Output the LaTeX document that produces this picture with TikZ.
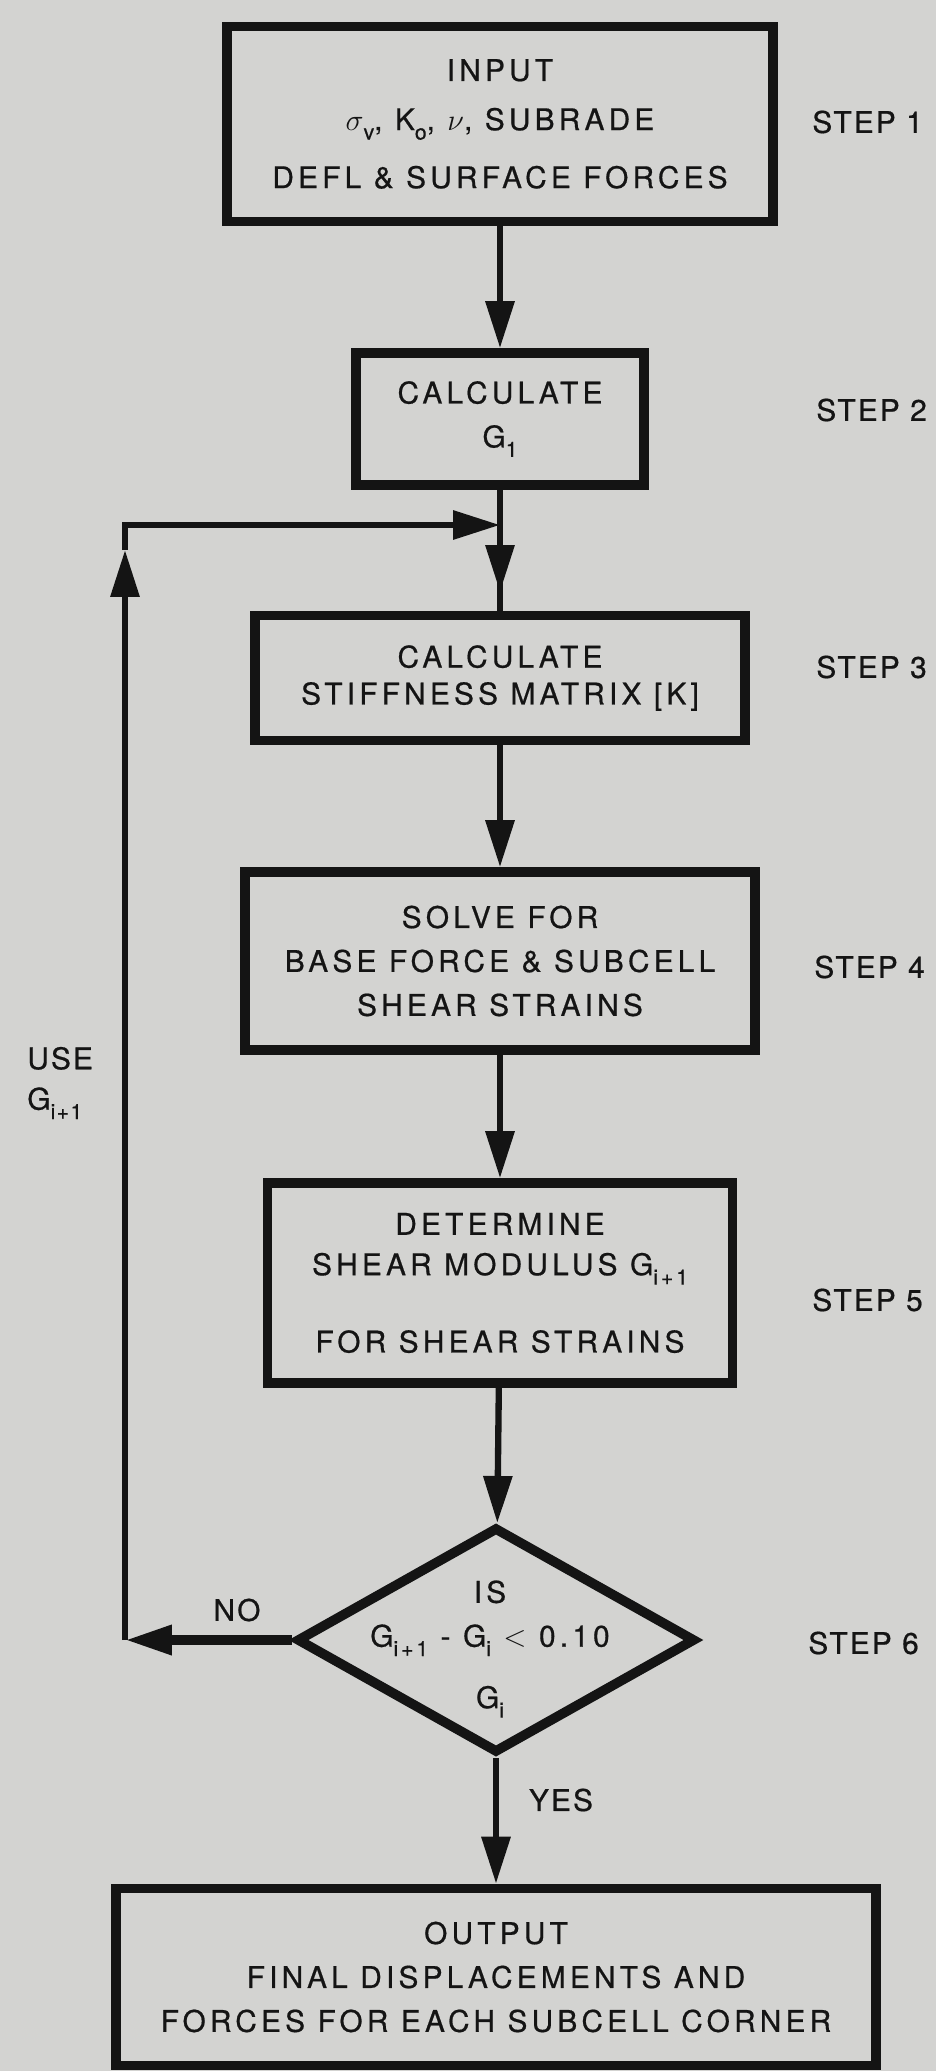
\documentclass[tikz,border=0pt]{standalone}
\usepackage{fontspec}
\usepackage{tikz}
\usetikzlibrary{arrows.meta,shapes.geometric}
\setmainfont[LetterSpace=14, FakeBold=0.6]{TeX Gyre Heros}
\definecolor{paper}{HTML}{D3D3D1}
\colorlet{ink}{black!92}
\newcommand{\lowsub}[1]{\raisebox{-0.6ex}{\fontsize{12}{12}\selectfont #1}}
\tikzset{chart/box/.style={draw=ink, text=ink, line width=5.5pt, align=center, inner sep=0pt, font=\fontsize{17}{25}\selectfont},
  chart/line/.style={ink, line width=3.6pt},
  chart/arrow/.style={chart/line, -{Triangle[length=0.94cm, width=0.56cm]}},
  chart/note/.style={text=ink, inner sep=0pt, font=\fontsize{17}{25}\selectfont\addfontfeature{LetterSpace=7}}}

\begin{document}
\begin{tikzpicture}[x=0.02cm, y=-0.02cm]
  \path[use as bounding box, fill=paper] (0,0) rectangle (936,2071);
\node[chart/box, minimum width=10.92cm, minimum height=3.90cm] (in) at (500,124) {INPUT\\[3pt] $\sigma$\lowsub{v}, K\lowsub{o}, $\nu$, SUBRADE\\[8pt] DEFL \& SURFACE FORCES};
\node[chart/box, minimum width=5.76cm, minimum height=2.64cm] (g1) at (500,419) {CALCULATE\\ G\lowsub{1}};
\node[chart/box, minimum width=9.80cm, minimum height=2.50cm] (stiff) at (500,678) {CALCULATE\\[-4pt] STIFFNESS MATRIX [K]};
\node[chart/box, minimum width=10.20cm, minimum height=3.56cm] (solve) at (500,961) {SOLVE FOR\\ BASE FORCE \& SUBCELL\\ SHEAR STRAINS};
\node[chart/box, minimum width=9.30cm, minimum height=4.00cm] (mod) at (500,1283) {DETERMINE\\[-2pt] SHEAR MODULUS G\lowsub{i+1}\\[19pt] FOR SHEAR STRAINS};
\node[chart/box, shape=diamond, minimum width=7.98cm, minimum height=4.52cm] (test) at (496,1640) {};
\node[chart/box, draw=none, align=center] (testtext) at (490,1649) {IS\\ G\lowsub{i+1} - G\lowsub{i} $<$ 0.10\\[10pt] G\lowsub{i}};
\node[chart/box, minimum width=15.20cm, minimum height=3.54cm] (out) at (496,1977) {OUTPUT\\ FINAL DISPLACEMENTS AND\\ FORCES FOR EACH SUBCELL CORNER};
\node[chart/note, anchor=west] (s1) at (812,122) {STEP 1};
\node[chart/note, anchor=west] (s2) at (816,410) {STEP 2};
\node[chart/note, anchor=west] (s3) at (816,667) {STEP 3};
\node[chart/note, anchor=west] (s4) at (814,967) {STEP 4};
\node[chart/note, anchor=west] (s5) at (812,1300) {STEP 5};
\node[chart/note, anchor=west] (s6) at (808,1643) {STEP 6};
\node[chart/note, anchor=west, align=left] (use) at (27,1083) {USE\\[-2pt] G\lowsub{i+1}};
\node[chart/note] (no) at (237,1610) {NO};
\node[chart/note] (yes) at (561,1800) {YES};
\coordinate (join) at (500,525);
\coordinate (downtip) at (500,592);
\coordinate (loopbot) at (125,1640);
\coordinate (uptip) at (125,550);
\coordinate (looptop) at (125,525);
\draw[chart/arrow] (in) -- (g1);
\draw[chart/line] (g1) -- (stiff);
\draw[chart/arrow] (join) -- (downtip);
\draw[chart/arrow] (stiff) -- (solve);
\draw[chart/arrow] (solve) -- (mod);
\draw[chart/arrow] (mod) -- (test);
\draw[chart/arrow] (test) -- (out);
\draw[chart/arrow, line width=5.5pt] (test.west) -- (loopbot);
\draw[chart/arrow] (loopbot) -- (uptip);
\draw[chart/arrow] (uptip) -- (looptop) -- (join);
\end{tikzpicture}
\end{document}
